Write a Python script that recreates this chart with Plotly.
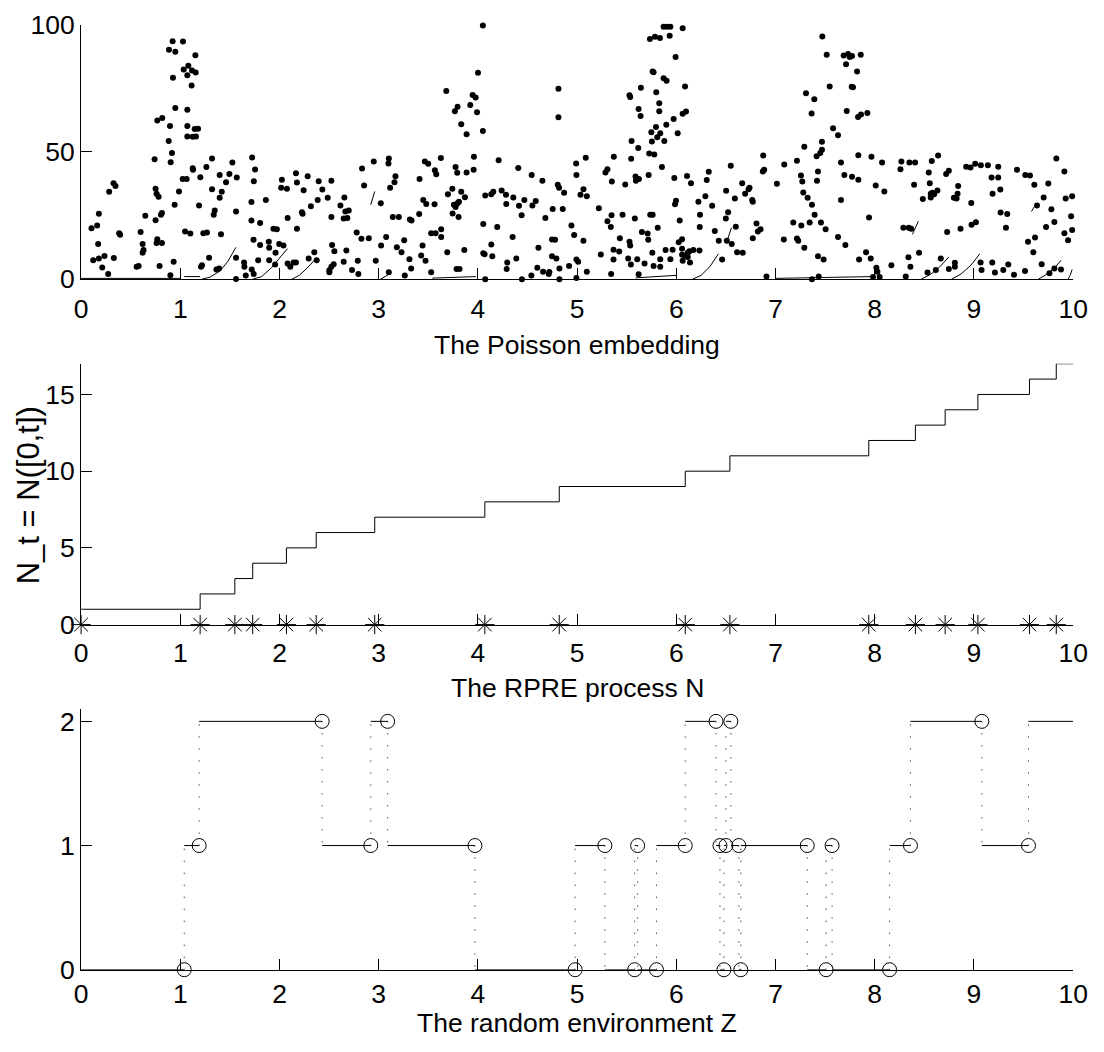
import plotly.graph_objects as go

# ---------------- data ----------------
# Poisson embedding: points (time, mark)
poisson_t = [
    0.105, 0.162, 0.179, 0.172, 0.122, 0.179, 0.236, 0.213, 0.273, 0.33, 0.283, 0.327, 0.347, 0.384, 0.394,
    0.56, 0.58, 0.60, 0.62, 0.63, 0.62, 0.647, 0.741, 0.751, 0.761, 0.781, 0.751, 0.805, 0.815, 0.768, 0.761,
    0.815, 0.791, 0.768, 0.818, 0.896, 0.883, 0.916, 0.903, 0.923, 1.027, 0.886, 0.95, 1.152, 0.926, 1.034,
    1.081, 1.118, 1.155, 1.071, 1.114, 0.95, 1.071, 1.071, 1.145, 1.179, 1.071, 1.125, 1.158, 0.987, 0.943,
    1.024, 1.064, 0.933, 0.9, 1.048, 1.101, 1.125, 1.128, 1.202, 1.189, 1.232, 1.269, 1.219, 1.209, 1.29,
    1.263, 1.32, 1.32, 1.347, 1.337, 1.418, 1.397, 1.397, 1.461, 1.495, 1.525, 1.569, 1.562, 1.41, 1.364,
    1.391, 1.562, 1.562, 1.643, 1.646, 1.66, 1.72, 1.74, 1.724, 1.754, 1.741, 1.717, 1.717, 1.805, 1.738,
    1.805, 1.785, 1.862, 1.892, 1.896, 1.939, 1.973, 1.96, 1.896, 1.956, 2.024, 2.017, 1.997, 2.04,
    2.075, 2.082, 2.166, 2.176, 2.284, 2.243, 2.395, 2.432, 2.385, 2.486, 2.523, 2.317, 2.226, 2.233, 2.176,
    2.523, 2.614, 2.654, 2.664, 2.698, 2.647, 2.684, 2.082, 2.109, 2.142, 2.166, 2.294, 2.375, 2.351, 2.53,
    2.553, 2.546, 2.523, 2.503, 2.503, 2.674, 2.647, 2.731, 2.789, 2.795, 2.778, 2.826, 2.9, 2.832, 2.853,
    2.95, 3.102, 3.098, 3.169, 3.159, 3.115, 3.021, 2.97, 3.024, 3.075, 3.142, 3.203, 3.183, 3.23, 3.257,
    3.102, 3.263, 3.31, 3.327, 3.314, 3.331, 3.408, 3.412, 3.465, 3.499, 3.566, 3.58, 3.627, 3.449, 3.479,
    3.563, 3.442, 3.428, 3.472, 3.529, 3.573, 3.63, 3.63, 3.529, 3.691, 3.863, 3.785, 3.815, 3.698, 3.742,
    3.832, 3.869, 3.758, 3.775, 3.795, 3.809, 3.745, 3.805, 3.775, 3.792, 3.886, 3.957, 3.96, 3.681, 3.795,
    3.768, 3.832, 3.886, 3.923, 3.947, 3.977, 3.991, 4.001,
    4.05, 4.05, 4.074, 4.054, 4.054, 4.067, 4.074, 4.135, 4.155, 4.135, 4.145, 4.195, 4.209, 4.239, 4.283,
    4.286, 4.296, 4.29, 4.357, 4.35, 4.387, 4.407, 4.414, 4.441, 4.468, 4.444, 4.542, 4.549, 4.583, 4.539,
    4.61, 4.599, 4.65, 4.68, 4.657, 4.714, 4.72, 4.754, 4.747, 4.791, 4.747, 4.778, 4.805, 4.818, 4.812,
    4.812, 4.869, 4.855, 4.822, 4.822, 4.919, 4.943, 4.97, 4.99, 4.993, 4.993, 5.01, 4.993, 5.064, 5.034,
    5.064, 5.098, 5.087, 5.098, 5.219, 5.239, 5.286, 5.306, 5.306, 5.34, 5.347, 5.35, 5.367, 5.367, 5.37,
    5.343, 5.424, 5.431, 5.458, 5.485, 5.515, 5.542, 5.528, 5.535, 5.545, 5.528, 5.535, 5.549, 5.582, 5.589,
    5.606, 5.593, 5.616, 5.62, 5.64, 5.643, 5.623, 5.62, 5.653, 5.68, 5.711, 5.717, 5.721, 5.727, 5.748,
    5.754, 5.737, 5.761, 5.758, 5.771, 5.778, 5.761, 5.771, 5.734, 5.785, 5.835, 5.795, 5.798, 5.808, 5.812,
    5.828, 5.828, 5.838, 5.838, 5.838, 5.855, 5.879, 5.872, 5.902, 5.899, 5.892, 5.872, 5.906, 5.94, 5.933,
    5.94, 5.963, 5.973, 5.98, 5.987, 5.993,
    6.064, 6.088, 6.064, 6.098, 6.014, 6.108, 6.148, 6.034, 5.997, 6.024, 6.058, 6.058, 6.058, 6.091, 6.115,
    6.132, 6.172, 6.233, 6.064, 6.138, 6.115, 6.223, 6.239, 6.236, 6.293, 6.307, 6.327, 6.361, 6.388, 6.428,
    6.462, 6.499, 6.509, 6.502, 6.522, 6.549, 6.559, 6.59, 6.6, 6.613, 6.67, 6.664, 6.694, 6.728, 6.738,
    6.765, 6.771, 6.771, 6.808, 6.822, 6.849, 6.876, 6.872, 6.886, 6.909, 7.014, 7.088, 7.084, 7.216, 7.179,
    7.216, 7.229, 7.256, 7.27, 7.26, 7.28, 7.29, 7.307, 7.29, 7.324, 7.344, 7.364, 7.391, 7.367, 7.394,
    7.414, 7.418, 7.428, 7.451, 7.468, 7.468, 7.458, 7.505, 7.428, 7.485, 7.367, 7.435, 7.472, 7.516, 7.546,
    7.58, 7.63, 7.66, 7.66, 7.63, 7.704, 7.694, 7.687, 7.731, 7.748, 7.771, 7.859, 7.711, 7.822, 7.768,
    7.781, 7.718, 7.832, 7.862, 7.926, 7.771, 7.835, 7.835, 7.842, 7.913, 7.943, 7.96, 7.967,
    8.01, 8.074, 8.097, 8.017, 8.027, 8.05, 7.983, 8.168, 8.259, 8.269, 8.35, 8.407, 8.397, 8.289, 8.343,
    8.367, 8.313, 8.34, 8.36, 8.447, 8.532, 8.485, 8.545, 8.555, 8.565, 8.565, 8.582, 8.599, 8.632, 8.575,
    8.639, 8.616, 8.666, 8.72, 8.747, 8.73, 8.798, 8.825, 8.835, 8.841, 8.747, 8.808, 8.808, 8.865, 8.922,
    8.966, 9.013, 9.07, 8.973, 8.976, 9.02, 9.141, 9.245, 9.178, 9.245, 9.188, 9.266, 9.269, 9.336, 9.323,
    9.067, 9.077, 9.185, 9.212, 9.296, 9.346, 9.404, 9.434, 9.518, 9.565, 9.609, 9.75, 9.831, 9.912, 9.703,
    9.636, 9.781, 9.925, 9.99, 9.98, 9.99, 9.811, 9.727, 9.912, 9.949, 9.616, 9.545, 9.599, 9.515, 9.683,
    9.761, 9.811, 9.878,
]
poisson_u = [
    20.0, 21.1, 25.7, 13.8, 7.4, 8.1, 9.1, 4.6, 2.0, 8.3, 34.3, 37.7, 36.6, 18.0, 17.4,
    4.9, 5.2, 18.5, 13.8, 11.5, 10.4, 24.9, 47.1, 35.5, 33.6, 32.4, 23.1, 25.3, 26.0, 15.7, 14.2,
    14.2, 5.2, 62.4, 63.3, 60.2, 54.3, 49.6, 45.9, 93.5, 93.4, 90.2, 89.4, 88.0, 79.2, 82.4,
    83.9, 82.0, 81.2, 80.1, 76.1, 67.3, 66.6, 60.2, 59.0, 59.1, 56.1, 56.0, 56.1, 34.4, 29.2,
    39.4, 39.4, 6.8, 1.5, 18.7, 17.9, 43.6, 43.0, 40.0, 28.9, 18.0, 18.3, 5.5, 4.9, 8.4,
    44.1, 47.4, 35.3, 27.0, 25.3, 34.3, 32.0, 40.9, 38.1, 41.3, 45.8, 39.9, 26.6, 17.6, 3.8,
    4.2, 8.4, 0.1, 6.5, 4.9, 1.4, 3.8, 2.0, 47.8, 43.1, 38.5, 30.3, 23.0, 22.1, 15.5,
    13.4, 7.4, 31.1, 14.7, 12.3, 19.8, 19.6, 10.4, 7.4, 5.8, 39.1, 35.9, 13.8, 13.2,
    35.5, 24.0, 41.6, 38.0, 40.4, 34.9, 38.5, 35.2, 31.1, 32.0, 38.7, 28.6, 26.3, 25.7, 19.8,
    24.4, 28.9, 32.1, 26.6, 27.0, 23.8, 24.0, 6.1, 4.9, 6.5, 6.5, 8.1, 7.4, 10.6, 13.4,
    11.0, 5.9, 4.9, 2.7, 3.5, 11.3, 6.8, 3.6, 7.2, 2.0, 18.3, 15.9, 16.1, 43.5, 36.8,
    46.2, 47.4, 45.5, 40.4, 38.1, 35.9, 29.8, 7.2, 13.2, 16.6, 24.4, 24.4, 12.5, 10.6, 15.3,
    2.7, 1.4, 7.8, 4.2, 23.4, 23.0, 25.6, 39.4, 46.2, 45.4, 42.8, 41.2, 47.6, 31.1, 29.5,
    29.4, 13.2, 9.3, 7.2, 18.0, 18.0, 19.6, 16.6, 2.7, 10.6, 11.5, 4.0, 4.0, 33.4, 35.5,
    34.3, 32.2, 29.2, 28.4, 29.8, 30.4, 25.8, 24.4, 44.1, 41.8, 41.9, 43.0, 48.1, 73.9, 67.8,
    66.0, 60.9, 56.9, 68.4, 72.4, 71.4, 65.6, 81.1,
    99.7, 58.2, 32.9, 21.7, 10.2, 9.8, 0.0, 33.4, 34.3, 13.6, 9.0, 20.5, 46.7, 34.8, 33.2,
    29.5, 6.5, 4.0, 32.1, 16.6, 8.1, 43.7, 28.8, 25.1, 31.1, 0.0, 40.9, 28.9, 30.7, 1.4,
    12.3, 4.5, 38.7, 24.0, 2.9, 2.0, 2.8, 27.6, 9.0, 8.1, 15.6, 15.5, 37.1, 35.9, 74.8,
    63.6, 34.0, 27.6, 4.2, 0.0, 5.2, 21.1, 17.3, 45.5, 40.9, 7.7, 6.8, 0.4, 15.1, 33.2,
    35.3, 32.6, 47.7, 2.9, 27.9, 9.7, 41.9, 43.2, 22.8, 20.5, 25.1, 38.4, 11.6, 7.7, 48.1,
    2.0, 10.9, 16.1, 25.3, 37.2, 8.1, 5.8, 14.7, 13.2, 47.3, 72.3, 71.6, 54.3, 23.8, 40.3,
    7.8, 38.7, 51.5, 66.9, 64.1, 75.2, 39.4, 1.9, 18.5, 6.1, 17.9, 15.5, 40.9, 49.4, 57.7,
    54.1, 25.3, 25.3, 10.4, 5.2, 49.0, 81.6, 81.3, 94.4, 95.3, 94.8, 59.8, 73.5, 55.8, 20.2,
    69.1, 66.0, 57.3, 7.8, 4.9, 44.1, 54.3, 79.0, 78.0, 60.7, 11.5, 99.2, 99.2, 99.2, 95.7,
    7.8, 11.6, 62.9, 39.8, 29.4, 87.3,
    98.6, 75.7, 65.0, 65.9, 57.3, 40.5, 37.7, 23.0, 30.8, 14.5, 15.7, 11.9, 9.6, 9.3, 10.4,
    11.0, 11.5, 11.3, 7.2, 6.5, 8.7, 30.4, 25.3, 20.5, 32.6, 39.0, 42.2, 28.8, 18.9, 15.1,
    7.7, 23.8, 15.1, 34.7, 26.3, 44.6, 13.8, 31.7, 20.6, 10.6, 10.4, 37.7, 33.6, 35.3, 35.9,
    31.1, 30.4, 16.1, 21.9, 18.7, 19.6, 48.6, 42.3, 43.0, 1.0, 37.5, 45.1, 15.6, 46.5, 22.3,
    16.0, 15.1, 40.7, 38.4, 21.1, 34.1, 12.3, 73.1, 52.0, 32.0, 22.3, 65.1, 70.7, 29.2, 25.3,
    48.3, 38.7, 42.3, 49.6, 50.9, 54.0, 22.3, 19.6, 9.0, 7.7, 0.0, 1.0, 95.4, 88.2, 75.7,
    59.3, 56.6, 45.8, 31.1, 16.6, 13.4, 40.9, 87.9, 88.5, 87.3, 87.7, 88.2, 84.5, 81.6, 75.6,
    75.4, 66.1, 63.7, 64.7, 65.3, 40.2, 39.1, 48.7, 7.7, 10.6, 24.2, 8.1, 48.1,
    36.8, 45.8, 34.4, 4.5, 2.9, 0.8, 0.8, 5.5, 43.2, 46.2, 45.8, 45.8, 37.1, 20.2, 20.2,
    19.8, 1.0, 8.6, 4.9, 10.4, 2.6, 31.5, 41.9, 37.7, 33.6, 32.1, 34.0, 33.4, 34.8, 46.4,
    48.6, 3.6, 8.1, 41.3, 42.6, 18.5, 32.0, 31.7, 33.6, 36.6, 4.0, 4.9, 6.4, 19.8, 44.2,
    43.9, 45.4, 44.8, 29.9, 21.4, 22.4, 44.8, 44.2, 39.9, 39.9, 33.6, 35.2, 26.2, 25.6, 20.2,
    6.5, 3.6, 6.5, 2.6, 3.6, 5.8, 1.7, 43.0, 40.9, 40.7, 37.1, 37.6, 47.4, 42.3, 32.1,
    28.9, 27.5, 31.7, 32.6, 24.7, 19.3, 22.5, 20.5, 18.0, 15.3, 16.4, 14.7, 10.6, 3.2, 5.9,
    2.3, 4.2, 3.8,
]

# intensity curve pieces drawn under the embedding (None breaks the line)
intensity_t = [0, 1.0, None, 1.04, 1.2, None, 1.22, 1.3, 1.4, 1.48, 1.56, None,
               1.73, 1.82, 1.92, 2.0, 2.08, None, 2.125, 2.2, 2.28, 2.367, None,
               2.92, 2.96, None, 3.02, 3.07, 3.12, None, 3.54, 3.98, None, 5.59, 6.0, None,
               6.165, 6.25, 6.34, 6.425, None, 6.512, 6.556, None, 7.0, 7.97, None,
               8.38, 8.44, None, 8.47, 8.56, 8.65, 8.747, None, 8.774, 8.87, 8.97, 9.06, None,
               9.58, 9.61, None, 9.65, 9.73, 9.81, 9.878, None, 9.95, 9.97, 9.99]
intensity_v = [0.3, 0.3, None, 1.0, 1.0, None, 0, 0.8, 3.2, 7.0, 12.5, None,
               0, 1.0, 4.5, 8.3, 12.0, None, 0, 1.5, 4.4, 8.1, None,
               29.2, 34.5, None, 0, 1.0, 2.3, None, 0.4, 1.0, None, 0.5, 1.5, None,
               0, 1.5, 5.0, 10.0, None, 15.1, 20.2, None, 0.3, 1.0, None,
               17.6, 22.8, None, 0, 1.8, 4.6, 8.7, None, 0, 2.0, 5.5, 10.0, None,
               26.6, 28.5, None, 0, 1.8, 4.3, 7.4, None, 0, 1.5, 3.8]

# RPRE process: event times (first event at t = 0)
event_times = [0, 1.20, 1.55, 1.73, 2.07, 2.37, 2.96, 4.07, 4.82, 6.09, 6.54,
               7.94, 8.41, 8.71, 9.04, 9.56, 9.83]
t_end = 10

# random environment: switching times and the state entered at each
z_times = [0, 1.04, 1.19, 2.43, 2.92, 3.09, 3.97, 4.98, 5.28, 5.58, 5.61, 5.80, 6.09,
           6.40, 6.44, 6.48, 6.50, 6.55, 6.63, 6.65, 7.32, 7.51, 7.57, 8.15, 8.36, 9.08, 9.55]
z_states = [0, 1, 2, 1, 2, 1, 0, 1, 0, 1, 0, 1, 2,
            1, 0, 1, 2, 1, 0, 1, 0, 1, 0, 1, 2, 1, 2]

x_ticks = list(range(0, 11))
y1_ticks = [0, 50, 100]
y2_ticks = [0, 5, 10, 15]
y3_ticks = [0, 1, 2]

# ---------------- derived series ----------------
counts = list(range(1, len(event_times) + 1))
step_x = event_times + [t_end]
step_y = counts + [counts[-1]]

seg_x, seg_y = [], []
circ_x, circ_y = [], []
dot_x, dot_y = [], []
for i, (t0, z) in enumerate(zip(z_times, z_states)):
    t1 = z_times[i + 1] if i + 1 < len(z_times) else t_end
    seg_x += [t0, t1, None]
    seg_y += [z, z, None]
    if i + 1 < len(z_times):
        circ_x.append(t1)
        circ_y.append(z)
        dot_x += [t1, t1, None]
        dot_y += [z, z_states[i + 1], None]

# ---------------- figure ----------------
W, H = 1104, 1052
FONT = "Liberation Sans, Arial, sans-serif"
FS = 26.5
fig = go.Figure()

fig.add_trace(go.Scatter(x=intensity_t, y=intensity_v, mode="lines",
                         line=dict(color="black", width=1), connectgaps=False,
                         xaxis="x", yaxis="y", hoverinfo="skip", showlegend=False))
fig.add_trace(go.Scatter(x=poisson_t, y=poisson_u, mode="markers",
                         marker=dict(color="black", size=6, line=dict(width=0)),
                         xaxis="x", yaxis="y", cliponaxis=False, showlegend=False))

fig.add_trace(go.Scatter(x=step_x, y=step_y, mode="lines", line_shape="hv",
                         line=dict(color="black", width=1),
                         xaxis="x2", yaxis="y2", showlegend=False))
fig.add_trace(go.Scatter(x=event_times, y=[0] * len(event_times), mode="markers",
                         marker=dict(symbol="asterisk-open", size=16, color="black",
                                     line=dict(color="black", width=1)),
                         xaxis="x2", yaxis="y2", cliponaxis=False, showlegend=False))

fig.add_trace(go.Scatter(x=dot_x, y=dot_y, mode="lines",
                         line=dict(color="black", width=1, dash="1px,11px"),
                         xaxis="x3", yaxis="y3", showlegend=False))
fig.add_trace(go.Scatter(x=seg_x, y=seg_y, mode="lines",
                         line=dict(color="black", width=1),
                         xaxis="x3", yaxis="y3", showlegend=False))
fig.add_trace(go.Scatter(x=circ_x, y=circ_y, mode="markers",
                         marker=dict(symbol="circle-open", size=14, color="black",
                                     line=dict(color="black", width=1)),
                         xaxis="x3", yaxis="y3", cliponaxis=False, showlegend=False))

# axes placement in page pixels
x_left, x_right = 75.6, 1087.8
x_dom = [x_left / W, x_right / W]


def ydom(top_px, bottom_px):
    return [1 - bottom_px / H, 1 - top_px / H]


axis_common = dict(showline=True, linecolor="black", linewidth=1, ticks="inside",
                   ticklen=11, tickwidth=1, tickcolor="black", showgrid=False,
                   zeroline=False, ticklabeloverflow="allow",
                   tickfont=dict(family=FONT, size=FS, color="black"))
x_common = dict(domain=x_dom, range=[0, 10], tickvals=x_ticks, **axis_common)

fig.update_layout(
    width=W, height=H, margin=dict(l=0, r=0, t=0, b=0),
    paper_bgcolor="white", plot_bgcolor="white", showlegend=False,
    font=dict(family=FONT, size=FS, color="black"),
    xaxis=dict(anchor="y", ticklabelstandoff=6, **x_common),
    yaxis=dict(domain=ydom(10.0, 271.9), range=[0, 100], tickvals=y1_ticks, anchor="x", **axis_common),
    xaxis2=dict(anchor="y2", ticklabelstandoff=5, **x_common),
    yaxis2=dict(domain=ydom(359.0, 627.5), range=[0, 17], tickvals=y2_ticks, anchor="x2", **axis_common),
    xaxis3=dict(anchor="y3", ticklabelstandoff=0, **x_common),
    yaxis3=dict(domain=ydom(714.3, 982.75), range=[0, 2.1], tickvals=y3_ticks, anchor="x3", **axis_common),
)

xc = (x_dom[0] + x_dom[1]) / 2
for text, ypx in [("The Poisson embedding", 339.3), ("The RPRE process N", 692.5),
                  ("The random environment Z", 1038.0)]:
    fig.add_annotation(text=text, x=xc, y=1 - ypx / H, xref="paper", yref="paper",
                       xanchor="center", yanchor="middle", showarrow=False,
                       font=dict(family=FONT, size=FS, color="black"))

fig.add_annotation(text="N_t = N([0,t])", x=21.5 / W, y=1 - 494.4 / H, xref="paper", yref="paper",
                   xanchor="center", yanchor="middle", textangle=-90, showarrow=False,
                   font=dict(family=FONT, size=31, color="black"))

# the figure fills the page exactly: no default body margin, no scrollbars
page_css = ("document.documentElement.style.margin='0';"
            "document.body.style.margin='0';"
            "document.body.style.overflow='hidden';"
            "document.documentElement.style.overflow='hidden';")
fig.write_html("out.html", post_script=page_css)
